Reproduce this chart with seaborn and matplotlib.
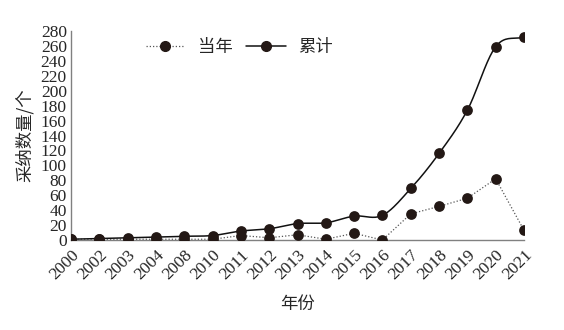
import numpy as np
import pandas as pd
import matplotlib
matplotlib.use("Agg")
import matplotlib.pyplot as plt
import seaborn as sns

years = ["2000", "2002", "2003", "2004", "2008", "2010", "2011", "2012", "2013",
         "2014", "2015", "2016", "2017", "2018", "2019", "2020", "2021"]
annual = [1, 1, 1, 1, 1, 1, 6, 3, 7, 1, 9, 0, 35, 45, 56, 82, 13]
cumulative = [1, 2, 3, 4, 5, 6, 12, 15, 22, 23, 32, 33, 69, 116, 174, 259, 272]
yticks = list(range(0, 281, 20))

sns.set_theme(style="white")
plt.rcParams['font.family'] = ['Liberation Serif', 'Noto Sans CJK SC']
cjk = ['Noto Sans CJK SC', 'DejaVu Sans']

df = pd.DataFrame({"x": np.arange(len(years)), "annual": annual, "cum": cumulative})

fig = plt.figure(figsize=(5.64, 3.30), dpi=100)
ax = fig.add_axes([71/564, 1 - 240/330, (524 - 71)/564, (240 - 31)/330])

dark = "#231815"

# smooth curve for cumulative (Catmull-Rom through data points)
def catmull(xs, ys, n=20):
    xs = np.asarray(xs, float); ys = np.asarray(ys, float)
    px = np.concatenate([[2*xs[0]-xs[1]], xs, [2*xs[-1]-xs[-2]]])
    py = np.concatenate([[2*ys[0]-ys[1]], ys, [2*ys[-1]-ys[-2]]])
    ox, oy = [], []
    for i in range(1, len(px) - 2):
        t = np.linspace(0, 1, n, endpoint=False)
        for arr, out in ((px, ox), (py, oy)):
            p0, p1, p2, p3 = arr[i-1], arr[i], arr[i+1], arr[i+2]
            out.extend(0.5*((2*p1) + (-p0+p2)*t + (2*p0-5*p1+4*p2-p3)*t**2 + (-p0+3*p1-3*p2+p3)*t**3))
    ox.append(xs[-1]); oy.append(ys[-1])
    return np.array(ox), np.array(oy)

sx, sy = catmull(df["x"], df["cum"])
sns.lineplot(x=df["x"], y=df["annual"], ax=ax, color="#555555", lw=0.9,
             linestyle=(0, (1, 1.6)), sort=False)
sns.lineplot(x=sx, y=sy, ax=ax, color="#111111", lw=1.1, sort=False)
sns.scatterplot(x=df["x"], y=df["annual"], ax=ax, color=dark, s=60, zorder=5, edgecolor=dark, linewidth=0)
sns.scatterplot(x=df["x"], y=df["cum"], ax=ax, color=dark, s=60, zorder=5, edgecolor=dark, linewidth=0)

from matplotlib.lines import Line2D
handles = [Line2D([], [], color="#555555", lw=0.9, linestyle=(0, (1, 1.6)), marker="o",
                  markersize=7, markerfacecolor=dark, markeredgecolor=dark),
           Line2D([], [], color="#111111", lw=1.1, marker="o",
                  markersize=7, markerfacecolor=dark, markeredgecolor=dark)]
leg = ax.legend(handles, ["当年", "累计"], loc="upper left", bbox_to_anchor=(0.13, 1.04),
                ncol=2, frameon=False, handlelength=2.3, columnspacing=0.8, handletextpad=0.7,
                prop={'family': cjk, 'size': 12.5})

ax.set_xlim(0, len(years) - 1)
ax.set_ylim(0, 280)
ax.set_yticks(yticks)
ax.set_yticklabels([str(v) for v in yticks], fontsize=12.5)
ax.set_xticks(df["x"])
ax.set_xticklabels(years, rotation=45, ha="right", rotation_mode="anchor", fontsize=12.5)
ax.tick_params(axis="both", direction="in", length=4, width=0.8, color="#808080")
ax.tick_params(axis="x", pad=5)
ax.tick_params(axis="y", pad=3)
for s in ["top", "right"]:
    ax.spines[s].set_visible(False)
for s in ["left", "bottom"]:
    ax.spines[s].set_color("#808080")
    ax.spines[s].set_linewidth(1.0)
ax.set_xlabel("年份", family=cjk, fontsize=12.5, labelpad=9)
ax.set_ylabel("采纳数量/个", family=cjk, fontsize=12.5, labelpad=5)

fig.savefig("out.png", dpi=100)
